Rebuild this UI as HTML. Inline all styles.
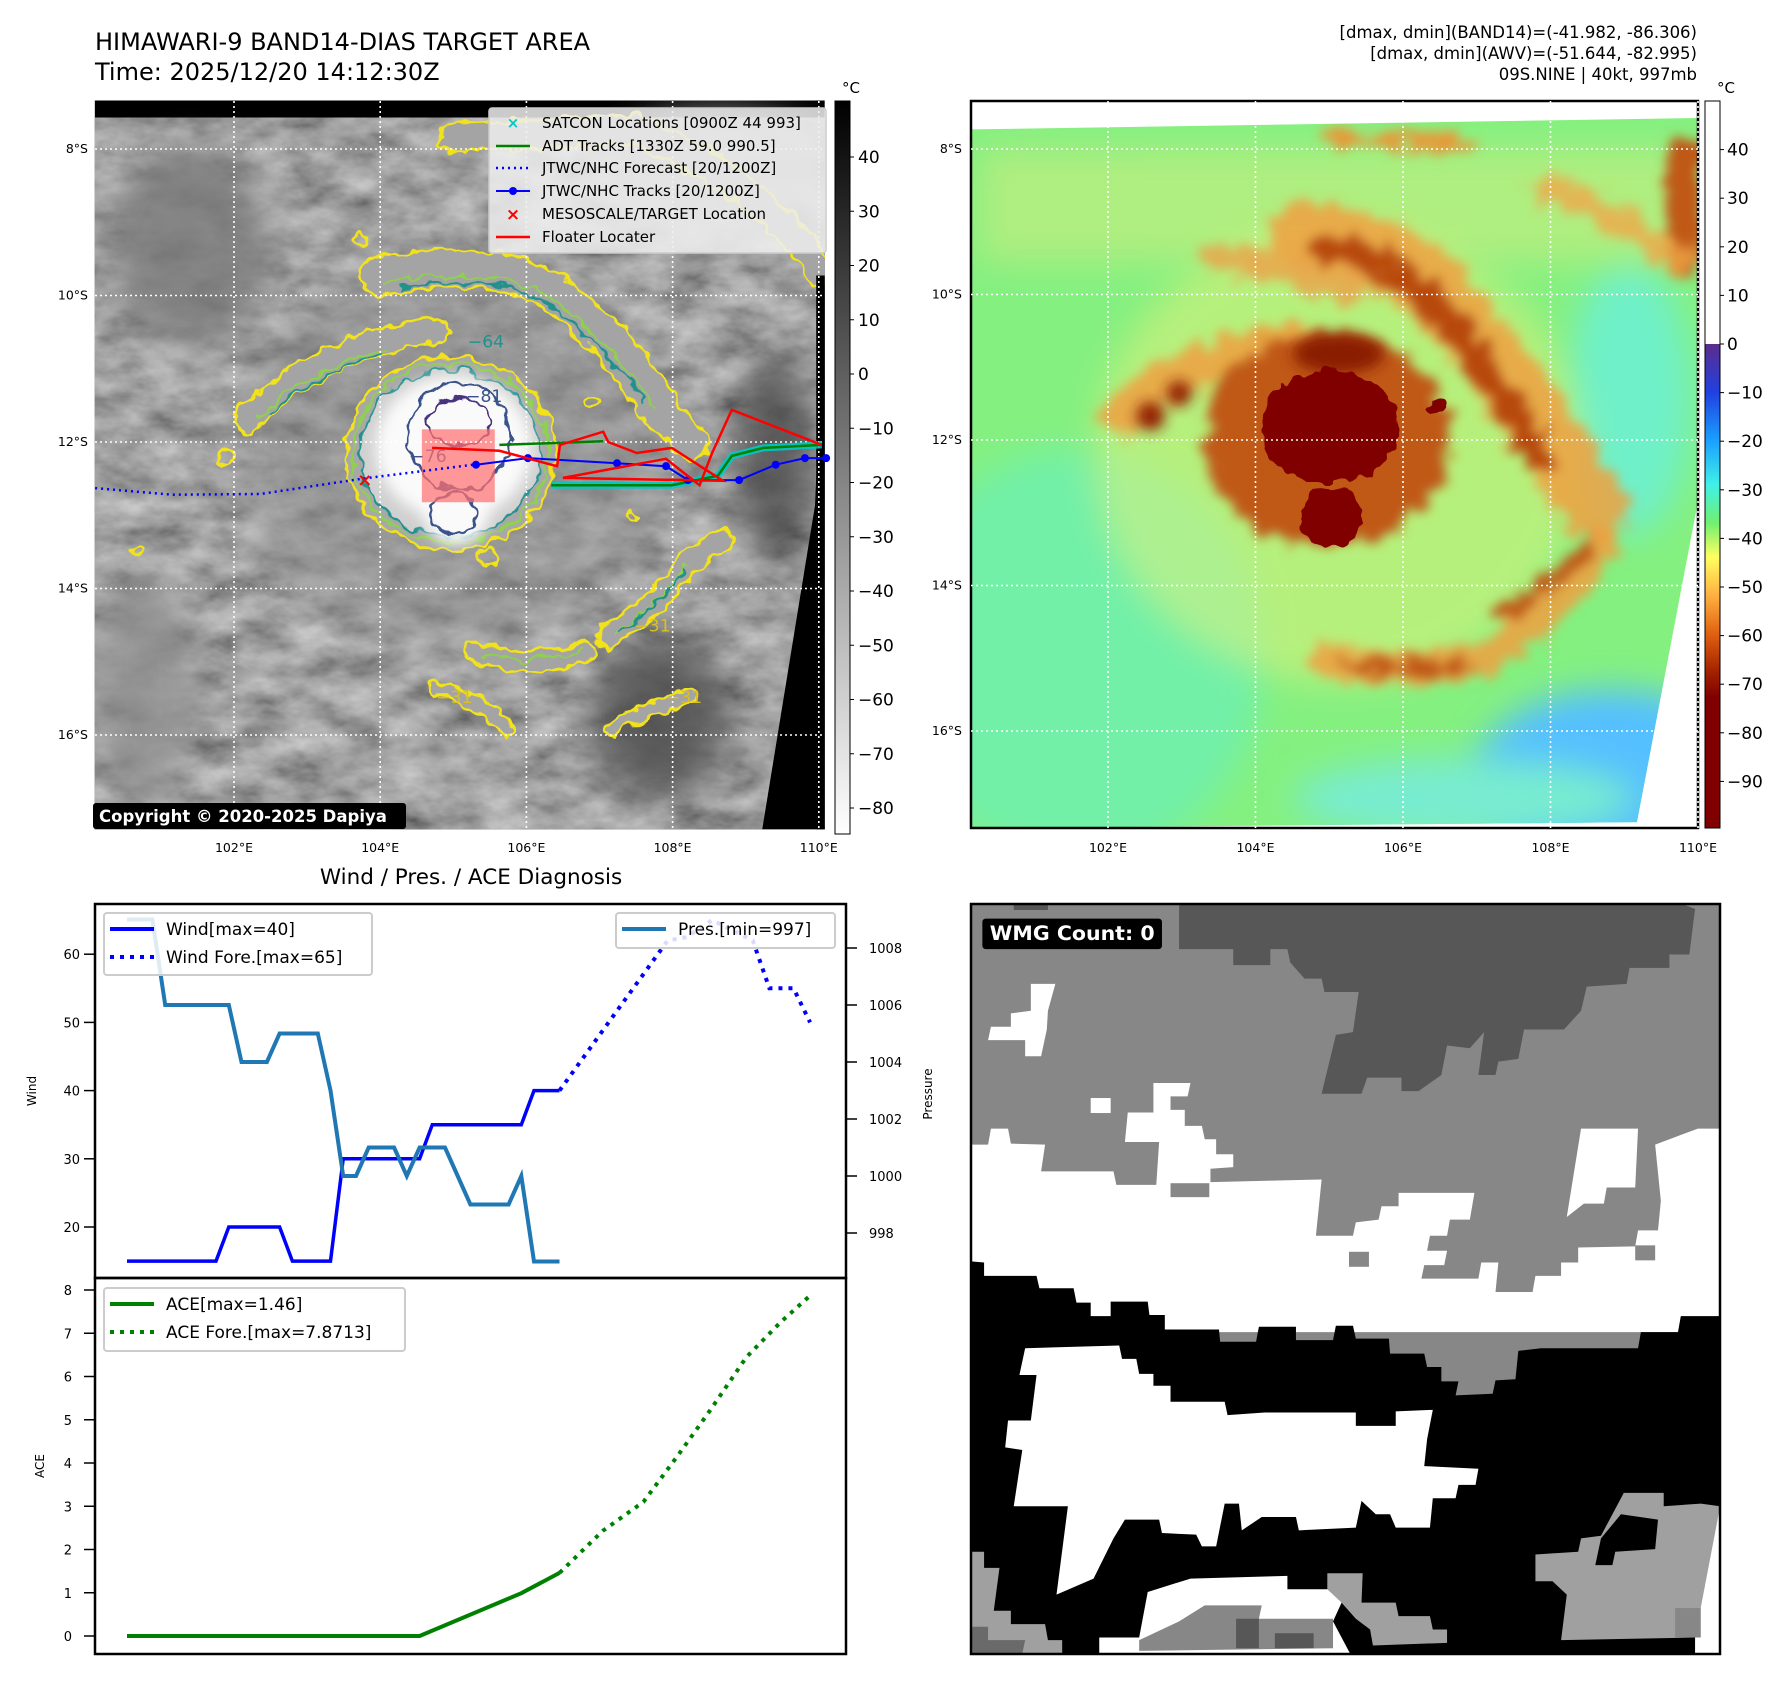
<!DOCTYPE html>
<html><head><meta charset="utf-8">
<style>
html,body{margin:0;padding:0;background:#fff;}
svg{display:block;font-family:"DejaVu Sans","Liberation Sans",sans-serif;}
</style></head>
<body>
<svg id="root" width="1788" height="1690" viewBox="0 0 1788 1690" xmlns="http://www.w3.org/2000/svg">
<defs>
  <filter id="clouds" x="0" y="0" width="100%" height="100%">
    <feTurbulence type="fractalNoise" baseFrequency="0.012 0.022" numOctaves="4" seed="7"/>
    <feColorMatrix type="matrix" values="0.6 0 0 0 0.06  0.6 0 0 0 0.06  0.6 0 0 0 0.06  0 0 0 0 1"/>
  </filter>
  <filter id="wob" x="-20%" y="-20%" width="140%" height="140%">
    <feTurbulence type="fractalNoise" baseFrequency="0.04" numOctaves="2" seed="3" result="n"/>
    <feDisplacementMap in="SourceGraphic" in2="n" scale="26" xChannelSelector="R" yChannelSelector="G"/>
  </filter>
  <filter id="blur30" x="-50%" y="-50%" width="200%" height="200%"><feGaussianBlur stdDeviation="30"/></filter>
  <filter id="blur12" x="-50%" y="-50%" width="200%" height="200%"><feGaussianBlur stdDeviation="12"/></filter>
  <filter id="blurwob" x="-30%" y="-30%" width="160%" height="160%">
    <feTurbulence type="fractalNoise" baseFrequency="0.035" numOctaves="3" seed="11" result="n"/>
    <feDisplacementMap in="SourceGraphic" in2="n" scale="60" xChannelSelector="R" yChannelSelector="G" result="d"/>
    <feGaussianBlur in="d" stdDeviation="10"/>
  </filter>
  <linearGradient id="cb1" x1="0" y1="0" x2="0" y2="1">
    <stop offset="0" stop-color="#000"/><stop offset="1" stop-color="#fff"/>
  </linearGradient>
  <linearGradient id="cb2" x1="0" y1="0" x2="0" y2="1">
    <stop offset="0" stop-color="#5b2d8e"/>
    <stop offset="0.10" stop-color="#2040e0"/>
    <stop offset="0.20" stop-color="#1aa0ff"/>
    <stop offset="0.29" stop-color="#40f0e8"/>
    <stop offset="0.37" stop-color="#70f070"/>
    <stop offset="0.44" stop-color="#ffff60"/>
    <stop offset="0.52" stop-color="#ffb040"/>
    <stop offset="0.60" stop-color="#e06010"/>
    <stop offset="0.68" stop-color="#a02000"/>
    <stop offset="0.73" stop-color="#800000"/>
    <stop offset="1" stop-color="#800000"/>
  </linearGradient>
  <clipPath id="clip1"><rect x="165" y="175" width="1272" height="1270"/></clipPath>
  <clipPath id="clip2"><polygon points="135,227 1410,207 1410,880 1303,1442 135,1453"/></clipPath>
  <clipPath id="clip4"><rect x="135" y="100" width="1314" height="1400"/></clipPath>
</defs>
<rect width="1788" height="1690" fill="#fff"/>

<text x="95" y="50" font-size="24" fill="#000">HIMAWARI-9 BAND14-DIAS TARGET AREA</text>
<text x="95" y="80" font-size="24" fill="#000">Time: 2025/12/20 14:12:30Z</text>
<g font-size="16.5" text-anchor="end" fill="#000">
  <text x="1697" y="38">[dmax, dmin](BAND14)=(-41.982, -86.306)</text>
  <text x="1697" y="59">[dmax, dmin](AWV)=(-51.644, -82.995)</text>
  <text x="1697" y="80">09S.NINE | 40kt, 997mb</text>
</g>

<svg x="0" y="0" width="900" height="900" viewBox="0 0 1568 1568" preserveAspectRatio="none">
  <g clip-path="url(#clip1)">
    <rect x="165" y="175" width="1272" height="1270" fill="#000"/>
    <polygon points="165,226 1437,205 1437,480 1420,880 1328,1430 165,1445" filter="url(#clouds)" fill="#666"/>
    <g opacity="0.8">
      <ellipse cx="790" cy="790" rx="380" ry="330" fill="#8a8a8a" filter="url(#blur30)" opacity="0.6"/>
      <ellipse cx="1250" cy="300" rx="200" ry="110" fill="#a8a8a8" filter="url(#blur30)"/>
      <ellipse cx="250" cy="1200" rx="90" ry="200" fill="#8e8e8e" filter="url(#blur30)"/>
      <ellipse cx="330" cy="430" rx="140" ry="180" fill="#7a7a7a" filter="url(#blur30)"/>
      <ellipse cx="1350" cy="800" rx="70" ry="180" fill="#4a4a4a" filter="url(#blur30)"/>
      <ellipse cx="1150" cy="1250" rx="120" ry="140" fill="#4a4a4a" filter="url(#blur30)"/>
    </g>
    <g filter="url(#wob)" fill="none" stroke-linecap="round" stroke-linejoin="round">
      <g stroke="#f2e21a">
        <path d="M660 480 Q900 440 990 530 Q1090 610 1140 700 L1200 770" stroke-width="70"/>
        <path d="M430 730 Q520 640 660 595 L760 575" stroke-width="50"/>
        <path d="M790 240 L1100 225 Q1300 300 1430 470" stroke-width="55"/>
        <path d="M1060 1110 Q1150 1050 1200 980 L1260 940" stroke-width="40"/>
        <path d="M830 1135 Q920 1165 1025 1135" stroke-width="38"/>
        <path d="M760 1200 Q830 1215 885 1270" stroke-width="28"/>
        <path d="M1065 1270 Q1130 1235 1200 1212" stroke-width="28"/>
      </g>
      <g stroke="#a4a4a4">
        <path d="M660 480 Q900 440 990 530 Q1090 610 1140 700 L1200 770" stroke-width="60"/>
        <path d="M430 730 Q520 640 660 595 L760 575" stroke-width="40"/>
        <path d="M790 240 L1100 225 Q1300 300 1430 470" stroke-width="45"/>
        <path d="M1060 1110 Q1150 1050 1200 980 L1260 940" stroke-width="30"/>
        <path d="M830 1135 Q920 1165 1025 1135" stroke-width="28"/>
        <path d="M760 1200 Q830 1215 885 1270" stroke-width="18"/>
        <path d="M1065 1270 Q1130 1235 1200 1212" stroke-width="18"/>
      </g>
      <g stroke="#8fd14f" stroke-width="4">
        <path d="M670 490 Q900 455 985 540 Q1085 620 1135 710"/>
        <path d="M450 725 Q530 650 670 605"/>
        <path d="M1070 1105 Q1150 1050 1200 985"/>
        <path d="M840 1140 Q920 1160 1010 1135"/>
      </g>
      <g stroke="#21918c" stroke-width="4">
        <path d="M700 500 Q900 470 980 550 Q1070 620 1120 700"/>
        <path d="M470 720 Q540 660 660 615"/>
        <path d="M1080 1100 Q1150 1050 1195 995"/>
      </g>
      <g stroke="#f2e21a" stroke-width="5">
        <circle cx="1030" cy="700" r="14"/><circle cx="1100" cy="900" r="10"/><circle cx="850" cy="970" r="15"/>
        <circle cx="240" cy="960" r="10"/><circle cx="395" cy="795" r="12"/><circle cx="630" cy="415" r="12"/>
      </g>
    </g>
    <g filter="url(#wob)">
      <ellipse cx="785" cy="790" rx="182" ry="168" fill="#a8a8a8" stroke="#f2e21a" stroke-width="5"/>
      <ellipse cx="785" cy="790" rx="170" ry="156" fill="none" stroke="#8fd14f" stroke-width="4"/>
      <ellipse cx="785" cy="790" rx="158" ry="145" fill="#d0d0d0" stroke="#21918c" stroke-width="4"/>
    </g>
    <ellipse cx="790" cy="780" rx="135" ry="125" fill="#fafafa" filter="url(#blur12)"/>
    <circle cx="795" cy="895" r="55" fill="#fafafa" filter="url(#blur12)"/>
    <g filter="url(#wob)" fill="none">
      <ellipse cx="800" cy="760" rx="88" ry="95" stroke="#3b528b" stroke-width="5"/>
      <ellipse cx="800" cy="735" rx="55" ry="40" stroke="#46327e" stroke-width="5"/>
      <ellipse cx="790" cy="895" rx="40" ry="34" stroke="#3b528b" stroke-width="5"/>
    </g>
    <g font-size="30" fill="#3b528b">
      <text x="812" y="700">−81</text><text x="715" y="805">−76</text>
      <text x="815" y="605" fill="#21918c">−64</text>
      <text x="1105" y="1100" fill="#d8c020">−31</text><text x="760" y="1225" fill="#d8c020">−31</text>
      <text x="1160" y="1225" fill="#d8c020">−31</text>
    </g>
    <rect x="735" y="748" width="127" height="127" fill="#ff7070" opacity="0.72"/>
    <polygon points="1437,480 1437,1445 1328,1445 1420,880" fill="#000"/>
    <rect x="1422" y="480" width="15" height="965" fill="#000"/>
  </g>
</svg>

<g id="map1axes"></g>
<g id="tracks"></g>

<g>
  <rect x="489" y="108" width="337" height="145" rx="3" fill="#eeeeee" fill-opacity="0.85" stroke="#cccccc" stroke-width="1.5"/>
  <g font-size="15" fill="#000">
    <text x="542" y="128">SATCON Locations [0900Z 44 993]</text>
    <text x="542" y="151">ADT Tracks [1330Z 59.0 990.5]</text>
    <text x="542" y="173">JTWC/NHC Forecast [20/1200Z]</text>
    <text x="542" y="196">JTWC/NHC Tracks [20/1200Z]</text>
    <text x="542" y="219">MESOSCALE/TARGET Location</text>
    <text x="542" y="242">Floater Locater</text>
  </g>
  <text x="513" y="128" font-size="15" fill="#00c8c8" font-weight="bold" text-anchor="middle">×</text>
  <line x1="496" y1="146" x2="530" y2="146" stroke="#008000" stroke-width="2.5"/>
  <line x1="496" y1="168" x2="530" y2="168" stroke="#0000ff" stroke-width="2.5" stroke-dasharray="2 4"/>
  <line x1="496" y1="191" x2="530" y2="191" stroke="#0000ff" stroke-width="2"/><circle cx="513" cy="191" r="4" fill="#0000ff"/>
  <text x="513" y="220" font-size="17" fill="#ff0000" font-weight="bold" text-anchor="middle">×</text>
  <line x1="496" y1="237" x2="530" y2="237" stroke="#ff0000" stroke-width="2.5"/>
</g>
<rect x="93" y="803" width="313" height="26" rx="3" fill="#000"/>
<text x="99" y="822" font-size="16.5" font-weight="bold" fill="#fff">Copyright © 2020-2025 Dapiya</text>

<rect x="835" y="101" width="15" height="733" fill="url(#cb1)" stroke="#000" stroke-width="1"/>
<text x="842" y="93" font-size="15">°C</text>
<g id="cb1labels" font-size="17" fill="#000"></g>

<svg x="894" y="0" width="894" height="894" viewBox="0 0 1568 1568" preserveAspectRatio="none">
  <g clip-path="url(#clip2)">
    <rect x="135" y="178" width="1275" height="1275" fill="#84f080"/>
    <ellipse cx="320" cy="1150" rx="330" ry="360" fill="#72f0a8" filter="url(#blur30)"/>
    <ellipse cx="1260" cy="1360" rx="240" ry="150" fill="#55c0ff" filter="url(#blur30)"/>
    <ellipse cx="1000" cy="1400" rx="300" ry="70" fill="#78ecd0" filter="url(#blur30)"/>
    <ellipse cx="1290" cy="700" rx="110" ry="240" fill="#70f0c8" filter="url(#blur30)"/>
    <ellipse cx="780" cy="800" rx="430" ry="400" fill="#e8f07a" filter="url(#blur30)" opacity="0.5"/>
    <rect x="150" y="260" width="1260" height="200" fill="#f0ec80" filter="url(#blur30)" opacity="0.4"/>
    <g filter="url(#blurwob)" fill="none" stroke-linecap="round">
      <path d="M720 410 Q900 430 1000 570 Q1090 680 1170 800 L1230 890" stroke="#f0a040" stroke-width="120" opacity="0.85"/>
      <path d="M760 430 Q900 460 990 590 Q1070 690 1130 800" stroke="#b84a10" stroke-width="55"/>
      <path d="M400 730 Q520 630 700 600" stroke="#f0a040" stroke-width="75" opacity="0.85"/>
      <path d="M760 1160 Q900 1185 1030 1155 Q1150 1085 1240 960" stroke="#f0a040" stroke-width="60" opacity="0.85"/>
      <path d="M800 1165 Q900 1180 1000 1165" stroke="#c05818" stroke-width="24"/>
      <path d="M1070 1080 Q1150 1030 1220 960" stroke="#c05818" stroke-width="24"/>
      <path d="M760 240 L1000 250" stroke="#e89838" stroke-width="28"/>
      <path d="M1385 270 L1385 460" stroke="#c05818" stroke-width="60"/>
      <path d="M1150 330 Q1280 380 1380 460" stroke="#f0a848" stroke-width="50" opacity="0.8"/>
      <path d="M560 450 Q700 480 800 510" stroke="#eca048" stroke-width="50" opacity="0.8"/>
    </g>
    <ellipse cx="760" cy="770" rx="215" ry="190" fill="#c05818" filter="url(#blurwob)"/>
    <ellipse cx="780" cy="620" rx="80" ry="35" fill="#8a1a02" filter="url(#blur12)"/>
    <circle cx="450" cy="730" r="25" fill="#901c04" filter="url(#blur12)"/>
    <circle cx="500" cy="690" r="22" fill="#901c04" filter="url(#blur12)"/>
    <g filter="url(#wob)">
      <ellipse cx="765" cy="748" rx="120" ry="100" fill="#800000"/>
      <circle cx="768" cy="908" r="52" fill="#800000"/>
      <circle cx="953" cy="713" r="12" fill="#800000"/>
    </g>
  </g>
</svg>
<rect x="971" y="101" width="727" height="727" fill="none" stroke="#000" stroke-width="2.5"/>
<g id="map2axes"></g>
<rect x="1705" y="101" width="15" height="243" fill="#fff"/>
<rect x="1705" y="344" width="15" height="484" fill="url(#cb2)"/>
<rect x="1705" y="101" width="15" height="727" fill="none" stroke="#000" stroke-width="1"/>
<text x="1717" y="93" font-size="15">°C</text>
<g id="cb2labels" font-size="17" fill="#000"></g>

<text x="471" y="884" font-size="21.5" text-anchor="middle">Wind / Pres. / ACE Diagnosis</text>
<g id="chart"></g>

<svg x="894" y="850" width="894" height="840" viewBox="0 0 1568 1568" preserveAspectRatio="none">
  <g clip-path="url(#clip4)">
    <rect x="135" y="100" width="1314" height="1400" fill="#878787"/>
    <polygon fill="#575757" points="500,100 1380,100 1405,110 1395,195 1360,195 1360,220 1290,220 1285,250 1215,255 1205,300 1175,335 1105,335 1095,390 1060,395 1055,420 1025,420 1035,340 1010,370 970,365 960,420 920,450 890,450 890,425 830,425 820,455 750,455 775,345 805,340 815,265 755,265 750,240 720,240 695,210 690,185 660,185 660,215 595,215 595,185 500,185"/>
    <polygon fill="#575757" points="210,100 270,100 270,112 210,112"/>
    <polygon fill="#fff" points="135,550 165,550 170,520 200,520 205,548 265,550 258,600 385,600 390,625 460,625 465,545 405,545 410,490 455,490 455,435 520,435 515,460 485,460 485,485 510,485 510,515 540,515 545,540 565,540 565,568 595,568 595,592 555,595 555,620 750,615 740,720 805,720 810,695 850,690 855,665 885,665 885,640 1018,640 1010,690 975,690 970,720 940,720 935,748 970,748 965,775 930,775 925,800 1025,800 1030,770 1060,770 1055,825 1120,825 1125,795 1170,795 1170,770 1200,770 1200,742 1300,740 1305,710 1340,710 1345,655 1335,550 1410,520 1449,520 1449,900 135,900"/>
    <polygon fill="#fff" points="1205,520 1305,520 1300,630 1250,630 1245,660 1210,660 1180,685"/>
    <polygon fill="#fff" points="240,250 283,250 270,300 268,335 258,385 230,385 230,355 165,355 170,330 205,330 205,305 240,300"/>
    <rect x="345" y="463" width="35" height="28" fill="#fff"/>
    <rect x="485" y="622" width="68" height="26" fill="#878787"/>
    <rect x="798" y="750" width="35" height="28" fill="#878787"/>
    <rect x="1300" y="738" width="35" height="28" fill="#878787"/>
    <polygon fill="#000" points="135,768 158,770 158,795 250,795 255,818 315,818 320,845 345,845 345,870 380,870 380,843 445,843 448,868 475,868 475,895 570,895 572,918 635,918 640,890 705,890 705,915 770,915 775,888 805,888 810,912 868,912 870,940 930,940 935,965 960,965 960,992 990,992 985,1018 1050,1015 1055,990 1090,988 1095,935 1135,930 1305,930 1310,900 1375,900 1380,870 1449,870 1449,1500 135,1500"/>
    <polygon fill="#fff" points="230,930 395,925 400,950 425,950 430,978 455,978 455,1000 485,1000 485,1030 580,1030 585,1055 650,1050 810,1050 810,1075 880,1075 880,1048 945,1045 935,1100 930,1150 1025,1155 1020,1185 990,1185 985,1210 945,1210 940,1265 880,1265 870,1240 845,1240 820,1215 810,1265 710,1270 705,1245 645,1245 610,1270 605,1220 580,1220 565,1300 540,1300 530,1278 470,1275 465,1250 405,1250 385,1285 350,1360 285,1390 305,1225 210,1225 225,1120 195,1115 200,1065 240,1065 250,980 220,980"/>
    <polygon fill="#fff" points="360,1470 430,1470 445,1385 520,1360 690,1355 690,1380 780,1380 785,1405 770,1440 800,1500 360,1500"/>
    <polygon fill="#878787" points="430,1475 500,1440 545,1410 645,1410 640,1435 770,1435 770,1490 430,1495"/>
    <rect x="600" y="1435" width="40" height="55" fill="#575757"/>
    <rect x="668" y="1462" width="68" height="28" fill="#575757"/>
    <polygon fill="#a0a0a0" points="1125,1315 1200,1310 1205,1285 1240,1280 1280,1200 1350,1200 1350,1225 1415,1220 1449,1225 1449,1260 1405,1470 1170,1475 1180,1390 1155,1365 1125,1365"/>
    <polygon fill="#000" points="1240,1285 1275,1240 1340,1250 1335,1305 1265,1310 1260,1335 1230,1335"/>
    <polygon fill="#a0a0a0" points="760,1350 822,1350 820,1405 880,1405 885,1430 940,1430 945,1455 970,1455 970,1480 840,1485 835,1455 810,1435 785,1405 760,1380"/>
    <polygon fill="#a0a0a0" points="135,1310 158,1310 158,1340 185,1340 175,1420 205,1420 205,1445 265,1445 270,1475 295,1475 295,1500 135,1500"/>
    <polygon fill="#6a6a6a" points="135,1450 165,1450 165,1475 230,1475 225,1500 135,1500"/>
    <polygon fill="#fff" points="1449,1225 1449,1500 1405,1500 1405,1470"/>
    <rect x="1370" y="1415" width="45" height="55" fill="#878787"/>
  </g>
  <rect x="155" y="128" width="315" height="57" rx="6" fill="#000"/>
  <text x="168" y="168" font-size="36" font-weight="bold" fill="#fff">WMG Count: 0</text>
</svg>
<rect x="971" y="904" width="749" height="750" fill="none" stroke="#000" stroke-width="2.5"/>
</svg>

<script>
const windObsIdx = [0,1,2,3,4,5,6,7,8,9,10,11,12,13,14,15,16,17,18,19,20,21,22,23,24,25,26,27,28,29,30,31,32,33,34];
const windObs = [15,15,15,15,15,15,15,15,20,20,20,20,20,15,15,15,15,30,30,30,30,30,30,30,35,35,35,35,35,35,35,35,40,40,40];
const presObs = [1009,1009,1009,1006,1006,1006,1006,1006,1006,1004,1004,1004,1005,1005,1005,1005,1003,1000,1000,1001,1001,1001,1000,1001,1001,1001,1000,999,999,999,999,1000,997,997,997];
const windFcIdx = [34,42.5,44,46,49.2,50.5,52.4,53.7];
const windFc = [40,62,62.5,65,62,55,55,50];
const aceObsIdx = [0,23,31,34];
const aceObs = [0,0,0.99,1.46];
const aceFcIdx = [34,37.4,40.6,43.3,45.8,48.7,51.4,53.7];
const aceFc = [1.46,2.43,3.1,4.17,5.2,6.45,7.26,7.87];
const windTicks = [20,30,40,50,60];
const presTicks = [998,1000,1002,1004,1006,1008];
const aceTicks = [0,1,2,3,4,5,6,7,8];
const ir_cbTicks = [40,30,20,10,0,-10,-20,-30,-40,-50,-60,-70,-80];
const awv_cbTicks = [40,30,20,10,0,-10,-20,-30,-40,-50,-60,-70,-80,-90];
const lonTicks = [102,104,106,108,110];
const latTicks = [8,10,12,14,16];
const fcLon = [100.1,101.15,102.36,103.76,105.27];
const fcLat = [12.63,12.72,12.71,12.5,12.31];
const trkLon = [105.31,106.02,107.24,107.91,108.21,108.91,109.41,109.81,110.1];
const trkLat = [12.31,12.22,12.29,12.33,12.52,12.52,12.31,12.22,12.22];
const fltLon = [104.71,105.63,106.42,106.46,107.05,107.12,107.51,107.99,108.69,106.5,107.91,108.37,108.54,108.81,110.04];
const fltLat = [12.08,12.12,12.33,12.04,11.86,12.0,12.15,12.08,12.53,12.49,12.23,12.59,12.15,11.56,12.04];
const adtLon = [106.34,107.99,108.62,108.81,109.24,110.04];
const adtLat = [12.59,12.59,12.46,12.19,12.08,12.04];
const adt2Lon = [105.63,107.05];
const adt2Lat = [12.04,11.99];
const targetLon = [103.79];
const targetLat = [12.52];

const NS='http://www.w3.org/2000/svg';
function mk(tag, attrs, parent){const e=document.createElementNS(NS,tag);for(const k in attrs)e.setAttribute(k,attrs[k]);parent.appendChild(e);return e;}
function fmt(v){return v<0?'\u2212'+Math.abs(v):String(v);}

const xI = i => 127 + i*12.72;
const yW = w => 1227 - (w-20)*6.82;
const yP = p => 948 + (1008-p)*28.5;
const yA = a => 1636 - a*43.25;
const x1 = lon => 234 + (lon-102)*73.1;
const y1 = lat => 149 + (lat-8)*73.25;
const x2 = lon => 1108 + (lon-102)*73.75;
const y2 = lat => 149 + (lat-8)*72.75;

function pathFrom(xs, ys, fx, fy){return xs.map((v,k)=>(k?'L':'M')+fx(v).toFixed(1)+' '+fy(ys[k]).toFixed(1)).join(' ');}

const chart=document.getElementById('chart');
let f=mk('rect',{x:95,y:904,width:751,height:374,fill:'none',stroke:'#000','stroke-width':2.5},chart);


f=mk('rect',{x:95,y:1278,width:751,height:376,fill:'none',stroke:'#000','stroke-width':2.5},chart);


windTicks.forEach(t=>{
  mk('line',{x1:84,x2:95,y1:yW(t),y2:yW(t),stroke:'#000','stroke-width':1.5},chart);
  const tx=mk('text',{x:80,y:yW(t)+5,'font-size':13,'text-anchor':'end'},chart);tx.textContent=t;
  
  
});
presTicks.forEach(t=>{
  mk('line',{x1:846,x2:857,y1:yP(t),y2:yP(t),stroke:'#000','stroke-width':1.5},chart);
  const tx=mk('text',{x:869,y:yP(t)+5,'font-size':13},chart);tx.textContent=t;
  
  
});
aceTicks.forEach(t=>{
  mk('line',{x1:84,x2:95,y1:yA(t),y2:yA(t),stroke:'#000','stroke-width':1.5},chart);
  const tx=mk('text',{x:72,y:yA(t)+5,'font-size':13,'text-anchor':'end'},chart);tx.textContent=t;
  
  
});
let lab=mk('text',{x:0,y:0,'font-size':12,'text-anchor':'middle',transform:'translate(36 1091) rotate(-90)'},chart);lab.textContent='Wind';


lab=mk('text',{x:0,y:0,'font-size':12,'text-anchor':'middle',transform:'translate(44 1466) rotate(-90)'},chart);lab.textContent='ACE';


lab=mk('text',{x:0,y:0,'font-size':12,'text-anchor':'middle',transform:'translate(932 1094) rotate(-90)'},chart);lab.textContent='Pressure';


let s=mk('path',{d:pathFrom(windObsIdx,windObs,xI,yW),fill:'none',stroke:'#0000ff','stroke-width':3.5},chart);


s=mk('path',{d:pathFrom(windFcIdx,windFc,xI,yW),fill:'none',stroke:'#0000ff','stroke-width':4,'stroke-dasharray':'4 6'},chart);


s=mk('path',{d:pathFrom(windObsIdx,presObs,xI,yP),fill:'none',stroke:'#1f77b4','stroke-width':4},chart);


s=mk('path',{d:pathFrom(aceObsIdx,aceObs,xI,yA),fill:'none',stroke:'#008000','stroke-width':4},chart);


s=mk('path',{d:pathFrom(aceFcIdx,aceFc,xI,yA),fill:'none',stroke:'#008000','stroke-width':4,'stroke-dasharray':'4 6'},chart);


function legendBox(x,y,w,h,name){const r=mk('rect',{x:x,y:y,width:w,height:h,rx:3,fill:'#fff','fill-opacity':0.85,stroke:'#cccccc','stroke-width':2},chart);}
function legendEntry(y,x0,color,dash,txt,name){
  const l=mk('line',{x1:x0,x2:x0+44,y1:y,y2:y,stroke:color,'stroke-width':4},chart);
  if(dash)l.setAttribute('stroke-dasharray','4 6');
  const t=mk('text',{x:x0+56,y:y+6,'font-size':17},chart);t.textContent=txt;
  
  
}
legendBox(104,913,268,62,'wind-legend');
legendEntry(929,110,'#0000ff',false,'Wind[max=40]','legend-wind');
legendEntry(957,110,'#0000ff',true,'Wind Fore.[max=65]','legend-wind-forecast');
legendBox(616,913,219,35,'pressure-legend');
legendEntry(929,622,'#1f77b4',false,'Pres.[min=997]','legend-pressure');
legendBox(104,1288,301,63,'ace-legend');
legendEntry(1304,110,'#008000',false,'ACE[max=1.46]','legend-ace');
legendEntry(1332,110,'#008000',true,'ACE Fore.[max=7.8713]','legend-ace-forecast');

function mapAxes(gid, fx, fy, left, right, top, bottom, lonY, latX){
  const g=document.getElementById(gid);
  lonTicks.forEach(l=>{
    mk('line',{x1:fx(l),x2:fx(l),y1:top,y2:bottom,stroke:'#fff','stroke-width':1.6,'stroke-dasharray':'2 3'},g);
    const t=mk('text',{x:fx(l),y:lonY,'font-size':12.5,'text-anchor':'middle'},g);t.textContent=l+'°E';
    
    
  });
  latTicks.forEach(l=>{
    mk('line',{x1:left,x2:right,y1:fy(l),y2:fy(l),stroke:'#fff','stroke-width':1.6,'stroke-dasharray':'2 3'},g);
    const t=mk('text',{x:latX,y:fy(l)+4,'font-size':12.5,'text-anchor':'end'},g);t.textContent=l+'°S';
    
    
  });
}
mapAxes('map1axes',x1,y1,95,829,101,834,852,88);
mapAxes('map2axes',x2,y2,971,1698,101,828,852,962);

const c1=document.getElementById('cb1labels');
ir_cbTicks.forEach(v=>{const y=157+(40-v)*5.425;mk('line',{x1:850,x2:854,y1:y,y2:y,stroke:'#000'},c1);const t=mk('text',{x:858,y:y+6},c1);t.textContent=fmt(v);
  
  });
const c2=document.getElementById('cb2labels');
awv_cbTicks.forEach(v=>{const y=344-v*4.86;mk('line',{x1:1720,x2:1724,y1:y,y2:y,stroke:'#000'},c2);const t=mk('text',{x:1727,y:y+6},c2);t.textContent=fmt(v);
  
  });

const tg=document.getElementById('tracks');
let p=mk('path',{d:pathFrom(adtLon,adtLat,x1,y1),fill:'none',stroke:'#00c8c8','stroke-width':7,opacity:0.9},tg);


p=mk('path',{d:pathFrom(adtLon,adtLat,x1,y1),fill:'none',stroke:'#008000','stroke-width':2.5},tg);


p=mk('path',{d:pathFrom(adt2Lon,adt2Lat,x1,y1),fill:'none',stroke:'#008000','stroke-width':2.5},tg);


p=mk('path',{d:pathFrom(fcLon,fcLat,x1,y1),fill:'none',stroke:'#0000ff','stroke-width':2.5,'stroke-dasharray':'2 4'},tg);


p=mk('path',{d:pathFrom(trkLon,trkLat,x1,y1),fill:'none',stroke:'#0000ff','stroke-width':2},tg);


trkLon.forEach((l,k)=>{const c=mk('circle',{cx:x1(l),cy:y1(trkLat[k]),r:4,fill:'#0000ff'},tg);
  
  });
p=mk('path',{d:pathFrom(fltLon,fltLat,x1,y1),fill:'none',stroke:'#ff0000','stroke-width':2.5},tg);


targetLon.forEach((l,k)=>{const t=mk('text',{x:x1(l),y:y1(targetLat[k])+6,'font-size':18,'font-weight':'bold',fill:'#ff0000','text-anchor':'middle'},tg);t.textContent='×';
  
  });
</script>
</body></html>
